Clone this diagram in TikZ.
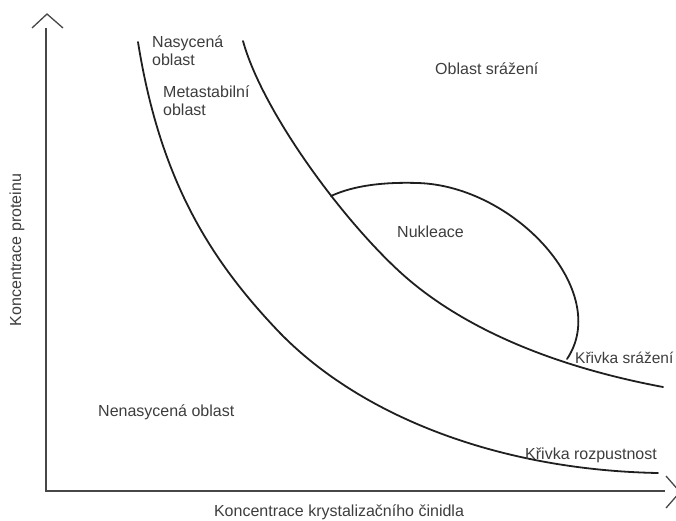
\documentclass[tikz,border=0pt]{standalone}
\usepackage{fontspec}
\setmainfont{Liberation Sans}
\begin{document}
\begin{tikzpicture}[x=1pt,y=-1pt,
  lbl/.style={anchor=west,inner sep=0pt,text=black!76,align=left,font=\fontsize{16}{18}\selectfont},
  crv/.style={line width=1.8pt,black!88,line cap=round}]
\useasboundingbox (0,0) rectangle (676,520);
% axes
\coordinate (O) at (46,491);
\coordinate (ytop) at (46,28);
\coordinate (xend) at (665,491);
\draw[line width=1.6pt,black!72] (ytop)--(O)--(xend);
\draw[line width=1.3pt,black!72] (32,28)--(47,14)--(63,28);
\draw[line width=1.3pt,black!72] (666,476)--(680,492)--(666,508);
\node[lbl,rotate=90,anchor=center] (ylab) at (17,250) {Koncentrace proteinu};
\node[lbl,anchor=center] (xlab) at (339,512) {Koncentrace krystalizačního činidla};
% solubility curve
\draw[crv] (138,42) .. controls (160,180) and (210,260) .. (280,333)
  .. controls (362,417) and (500,470) .. (658,473);
% precipitation curve
\draw[crv] (243,41) .. controls (262,110) and (340,217) .. (400,272)
  .. controls (448,316) and (530,362) .. (663,387);
% nucleation zone
\draw[crv] (331,196) .. controls (355,185) and (385,182) .. (418,183)
  .. controls (515,186) and (612,292) .. (567,359);
% labels
\node[lbl] (nas) at (152,51) {Nasycená\\oblast};
\node[lbl] (meta) at (163,101) {Metastabilní\\oblast};
\node[lbl] (srazeni) at (435,69) {Oblast srážení};
\node[lbl] (nukl) at (397,232) {Nukleace};
\node[lbl,font=\fontsize{15.5}{18}\selectfont] (ksraz) at (575,358) {Křivka srážení};
\node[lbl] (krozp) at (525,455) {Křivka rozpustnost};
\node[lbl] (nenas) at (98,412) {Nenasycená oblast};
\end{tikzpicture}
\end{document}
